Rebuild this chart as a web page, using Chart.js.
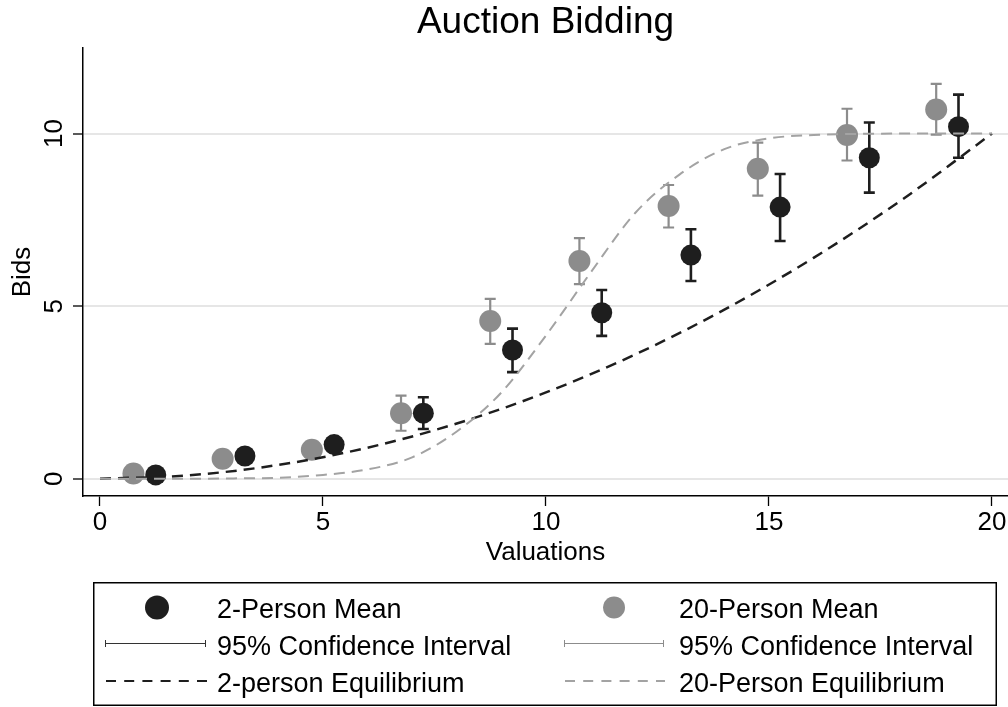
<!DOCTYPE html>
<html>
<head>
<meta charset="utf-8">
<title>Auction Bidding</title>
<script src="https://cdn.jsdelivr.net/npm/chart.js@4.4.1/dist/chart.umd.min.js"></script>
<style>
  html, body { margin: 0; padding: 0; background: #ffffff; }
  #wrap { position: relative; width: 1008px; height: 707px; overflow: hidden; }
  #chart { position: absolute; left: 0; top: 0; }
  .key { position: absolute; font-family: "Liberation Sans", Arial, Helvetica, sans-serif;
         font-size: 27px; line-height: 30px; color: #000; white-space: nowrap; }
  #keybox { position: absolute; left: 93px; top: 582px; }
</style>
</head>
<body>
<div id="wrap">
  <canvas id="chart" width="1008" height="707"></canvas>
  <svg id="keybox" width="904" height="124" xmlns="http://www.w3.org/2000/svg">
    <rect x="0.75" y="0.75" width="902.5" height="122.5" fill="none" stroke="#000" stroke-width="1.5"/>
    <!-- 2-person column -->
    <circle cx="64" cy="25.5" r="12" fill="#1e1e1e"/>
    <g stroke="#333" stroke-width="1">
      <line x1="12" y1="61.5" x2="113" y2="61.5"/>
      <line x1="12.5" y1="58" x2="12.5" y2="65"/>
      <line x1="112.5" y1="58" x2="112.5" y2="65"/>
    </g>
    <line x1="13" y1="99" x2="114" y2="99" stroke="#1e1e1e" stroke-width="2" stroke-dasharray="10 8.2"/>
    <!-- 20-person column -->
    <circle cx="521" cy="25.5" r="11" fill="#8c8c8c"/>
    <g stroke="#8c8c8c" stroke-width="1">
      <line x1="471" y1="61.5" x2="571" y2="61.5"/>
      <line x1="471.5" y1="58" x2="471.5" y2="65"/>
      <line x1="570.5" y1="58" x2="570.5" y2="65"/>
    </g>
    <line x1="472" y1="99" x2="572" y2="99" stroke="#a3a3a3" stroke-width="2" stroke-dasharray="10 8.2"/>
  </svg>
  <div class="key" style="left:217px; top:594px;">2-Person Mean</div>
  <div class="key" style="left:217px; top:631px;">95% Confidence Interval</div>
  <div class="key" style="left:217px; top:668px;">2-person Equilibrium</div>
  <div class="key" style="left:679px; top:594px;">20-Person Mean</div>
  <div class="key" style="left:679px; top:631px;">95% Confidence Interval</div>
  <div class="key" style="left:679px; top:668px;">20-Person Equilibrium</div>
</div>
<script>
// Valuation bins where each group's mean bid is plotted
const twoPersonX    = [1.25, 3.25, 5.25, 7.25, 9.25, 11.25, 13.25, 15.25, 17.25, 19.25];
const twentyPersonX = [0.75, 2.75, 4.75, 6.75, 8.75, 10.75, 12.75, 14.75, 16.75, 18.75];

// Mean bids and 95% confidence bounds
const twoPersonMean  = [0.11, 0.66, 0.99, 1.90, 3.73, 4.81, 6.48, 7.87, 9.30, 10.20];
const twoPersonLow   = [0.05, 0.54, 0.84, 1.44, 3.09, 4.14, 5.73, 6.89, 8.29, 9.30];
const twoPersonHigh  = [0.17, 0.78, 1.14, 2.36, 4.35, 5.47, 7.23, 8.83, 10.32, 11.13];

const twentyPersonMean = [0.15, 0.58, 0.84, 1.90, 4.57, 6.31, 7.90, 8.98, 9.96, 10.70];
const twentyPersonLow  = [0.07, 0.46, 0.69, 1.39, 3.91, 5.64, 7.28, 8.20, 9.22, 9.97];
const twentyPersonHigh = [0.23, 0.70, 0.99, 2.41, 5.21, 6.97, 8.51, 9.74, 10.72, 11.44];

// Theoretical equilibrium bid functions
const eqTwoX = [0, 2, 4, 6, 8, 10, 12, 14, 16, 18, 20];
const eqTwoY = [0, 0.10, 0.40, 0.90, 1.60, 2.50, 3.60, 4.90, 6.40, 8.10, 10.00];

const eqTwentyX = [0, 1, 2, 3, 4, 5, 6, 7, 8, 9, 10, 11, 12, 13, 14, 15, 16, 17, 18, 19, 20];
const eqTwentyY = [0, 0, 0, 0.01, 0.03, 0.11, 0.27, 0.62, 1.37, 2.50, 4.15, 5.97, 7.70, 8.82, 9.55, 9.86, 9.96, 9.99, 10, 10, 10];

// Axis ticks
const xTicks = [0, 5, 10, 15, 20];
const yTicks = [0, 5, 10];

const toPoints = (xs, ys) => xs.map((x, i) => ({ x: x, y: ys[i] }));

const DARK = '#1e1e1e';
const GREY = '#8c8c8c';

const ciGroups = [
  { xs: twoPersonX, low: twoPersonLow, high: twoPersonHigh, color: DARK, width: 2.6 },
  { xs: twentyPersonX, low: twentyPersonLow, high: twentyPersonHigh, color: GREY, width: 2.2 }
];

// Vertical 95% interval bars with end caps
const errorBars = {
  id: 'errorBars',
  beforeDatasetsDraw(chart) {
    const { ctx, scales: { x, y } } = chart;
    ciGroups.forEach(g => {
      ctx.save();
      ctx.strokeStyle = g.color;
      ctx.lineWidth = g.width;
      ctx.lineCap = 'butt';
      g.xs.forEach((xv, i) => {
        const px = x.getPixelForValue(xv);
        const lo = y.getPixelForValue(g.low[i]);
        const hi = y.getPixelForValue(g.high[i]);
        ctx.beginPath();
        ctx.moveTo(px, lo); ctx.lineTo(px, hi);
        ctx.moveTo(px - 5.5, lo); ctx.lineTo(px + 5.5, lo);
        ctx.moveTo(px - 5.5, hi); ctx.lineTo(px + 5.5, hi);
        ctx.stroke();
      });
      ctx.restore();
    });
  }
};

Chart.defaults.font.family = '"Liberation Sans", Arial, Helvetica, sans-serif';
Chart.defaults.color = '#000';

new Chart(document.getElementById('chart'), {
  type: 'scatter',
  data: {
    datasets: [
      {
        type: 'line',
        label: '20-Person Equilibrium',
        data: toPoints(eqTwentyX, eqTwentyY),
        borderColor: '#a3a3a3',
        borderWidth: 2,
        borderDash: [11, 7],
        pointRadius: 0,
        fill: false,
        cubicInterpolationMode: 'monotone'
      },
      {
        type: 'line',
        label: '2-person Equilibrium',
        data: toPoints(eqTwoX, eqTwoY),
        borderColor: DARK,
        borderWidth: 2.5,
        borderDash: [11, 7],
        pointRadius: 0,
        fill: false,
        cubicInterpolationMode: 'monotone'
      },
      {
        label: '2-Person Mean',
        data: toPoints(twoPersonX, twoPersonMean),
        backgroundColor: DARK,
        borderWidth: 0,
        pointRadius: 10.5,
        pointHoverRadius: 10.5
      },
      {
        label: '20-Person Mean',
        data: toPoints(twentyPersonX, twentyPersonMean),
        backgroundColor: GREY,
        borderWidth: 0,
        pointRadius: 11,
        pointHoverRadius: 11
      }
    ]
  },
  options: {
    responsive: false,
    animation: false,
    devicePixelRatio: 1,
    events: [],
    layout: { autoPadding: false, padding: { left: 0, right: 0, top: 0, bottom: 138.6 } },
    plugins: {
      legend: { display: false },
      tooltip: { enabled: false },
      title: {
        display: true,
        text: 'Auction Bidding',
        fullSize: false,
        color: '#000',
        font: { size: 37, weight: 'normal' },
        padding: { top: 1, bottom: 2.6 }
      }
    },
    scales: {
      x: {
        type: 'linear',
        min: -0.381,
        max: 20.36,
        afterBuildTicks: s => { s.ticks = xTicks.map(v => ({ value: v })); },
        afterFit: s => { s.height = 72.4; s.paddingLeft = 0; s.paddingRight = 0; },
        ticks: { font: { size: 26 }, color: '#000', padding: 1, maxRotation: 0, autoSkip: false },
        grid: { drawOnChartArea: false, drawTicks: true, tickLength: 10, tickColor: '#000', tickWidth: 1.3 },
        border: { color: '#000', width: 1.5 },
        title: { display: true, text: 'Valuations', color: '#000', font: { size: 26 }, padding: { top: 0, bottom: 0 } }
      },
      y: {
        type: 'linear',
        min: -0.5,
        max: 12.48,
        afterBuildTicks: s => { s.ticks = yTicks.map(v => ({ value: v })); },
        afterFit: s => { s.width = 83; s.paddingTop = 0; s.paddingBottom = 0; },
        ticks: { font: { size: 26 }, color: '#000', minRotation: 90, maxRotation: 90, crossAlign: 'center', padding: 3.5, autoSkip: false },
        grid: { color: '#e6e6e6', lineWidth: 2, drawTicks: true, tickLength: 10, tickColor: '#000', tickWidth: 1.3 },
        border: { color: '#000', width: 1.5 },
        title: { display: true, text: 'Bids', color: '#000', font: { size: 26 }, padding: { top: 7, bottom: 0 } }
      }
    }
  },
  plugins: [errorBars]
});
</script>
</body>
</html>
